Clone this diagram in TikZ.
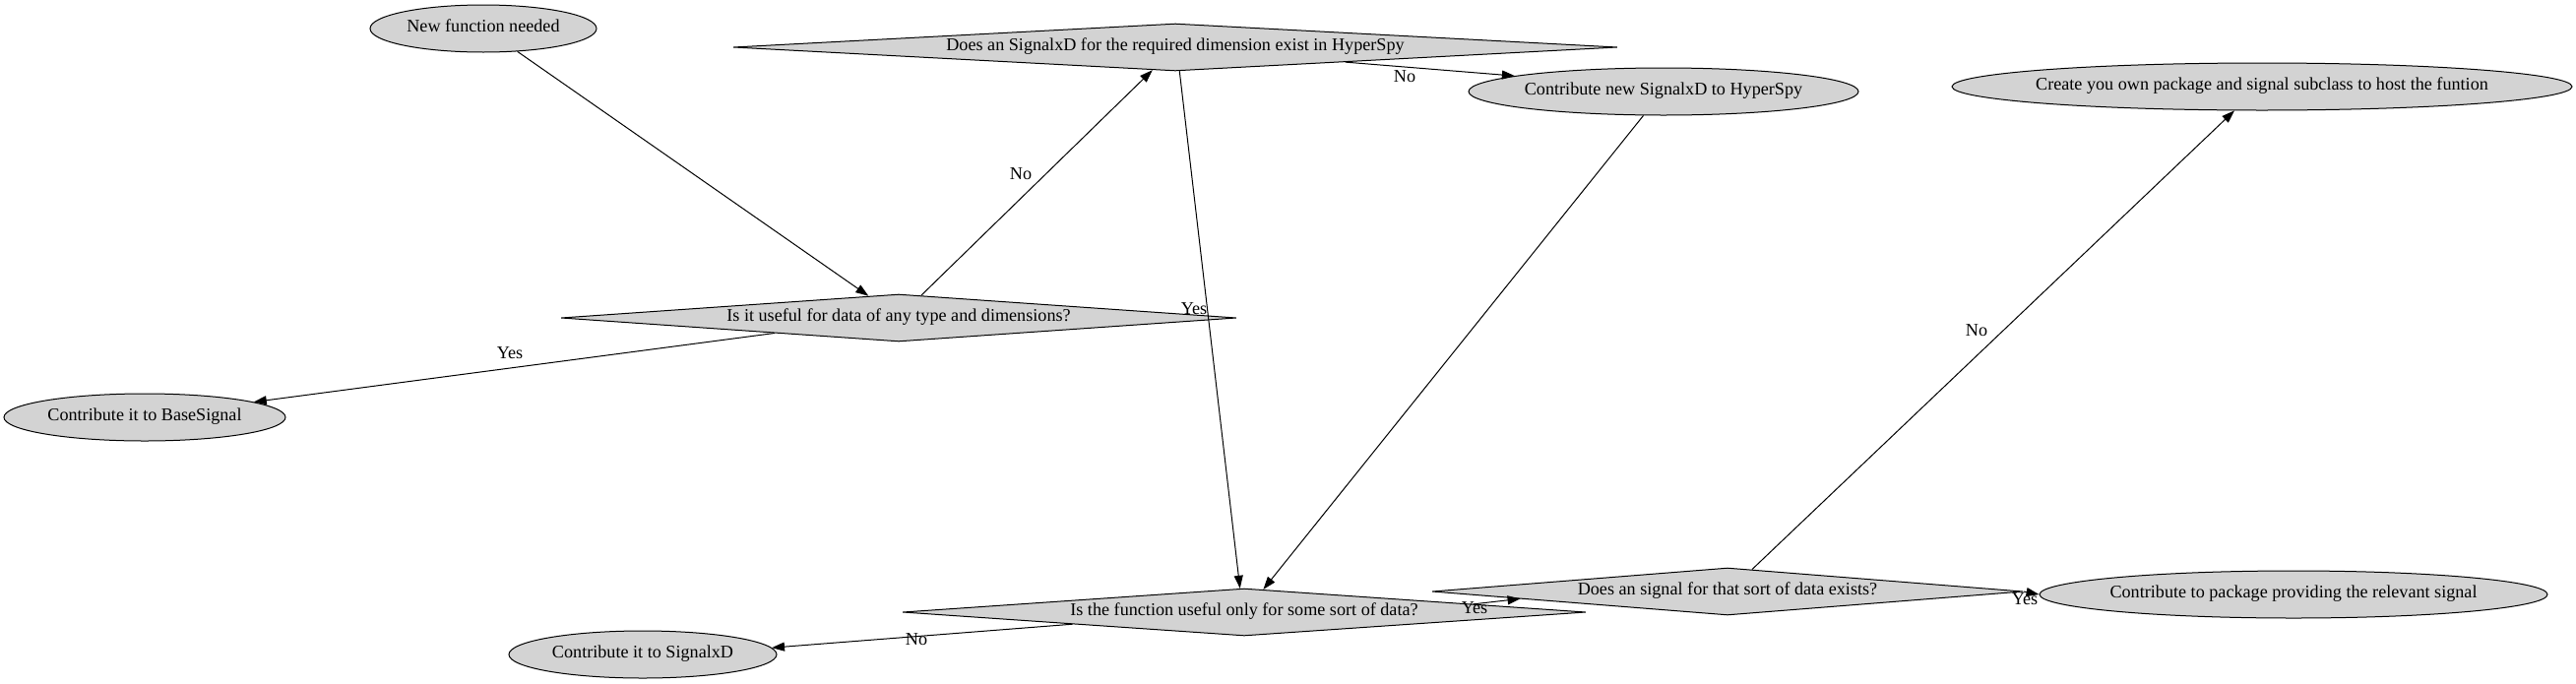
\documentclass[tikz,border=0pt]{standalone}
\usepackage{fontspec}
\setmainfont{Liberation Serif}
\usetikzlibrary{shapes.geometric,arrows.meta}
\definecolor{nodegray}{HTML}{D3D3D3}
\begin{document}
\begin{tikzpicture}[x=1pt,y=-1pt,
  every node/.style={font=\fontsize{18.15}{20}\selectfont},
  txt/.style={inner sep=0pt, text height=0.9em, text depth=0.2em},
  ell/.style={ellipse, draw, line width=1pt, fill=nodegray, inner sep=0pt, minimum height=48pt},
  dia/.style={diamond, draw, line width=1pt, fill=nodegray, inner sep=0pt, minimum height=48pt},
  arr/.style={line width=1pt, -{Triangle[length=13pt,width=9pt]}},
  lbl/.style={inner sep=0pt, text height=0.68em, text depth=0.22em}]
\useasboundingbox (0,0) rectangle (2617,694);

\node[ell, minimum width=230pt, label={[txt]center:New function needed}] (nf) at (491,29) {};
\node[dia, minimum width=898pt, label={[txt]center:Does an SignalxD for the required dimension exist in HyperSpy}] (d1) at (1194,48) {};
\node[ell, minimum width=396pt, label={[txt]center:Contribute new SignalxD to HyperSpy}] (cn) at (1690,93) {};
\node[ell, minimum width=630pt, label={[txt]center:Create you own package and signal subclass to host the funtion}] (co) at (2298,88) {};
\node[dia, minimum width=686pt, label={[txt]center:Is it useful for data of any type and dimensions?}] (d2) at (913,323) {};
\node[ell, minimum width=286pt, label={[txt]center:Contribute it to BaseSignal}] (bs) at (147,424) {};
\node[dia, minimum width=694pt, label={[txt]center:Is the function useful only for some sort of data?}] (d3) at (1264,622) {};
\node[ell, minimum width=272pt, label={[txt]center:Contribute it to SignalxD}] (sx) at (653,665) {};
\node[dia, minimum width=600pt, label={[txt]center:Does an signal for that sort of data exists?}] (d4) at (1755,601) {};
\node[ell, minimum width=516pt, label={[txt]center:Contribute to package providing the relevant signal}] (cp) at (2330,604) {};

\draw[arr] (nf.-34.4) -- (d2.144.6);
\draw[arr] (d2.45) -- (d1.-135);
\draw[arr] (d1.-5.07) -- (cn.174.9);
\draw[arr] (d1.-80.5) -- (d3.100);
\draw[arr] (cn.-130) -- (d3.50);
\draw[arr] (d2.187.5) -- (bs.8.2);
\draw[arr] (d3.184.2) -- (sx.3.5);
\draw[arr] (d3.2.48) -- (d4.182.7);
\draw[arr] (d4.42.6) -- (co.-139.4);
\draw[arr] (d4.east) -- (cp.west);

\node[lbl] (l1) at (1037,180) {No};
\node[lbl] (l2) at (1427,81) {No};
\node[lbl] (l3) at (1213,317) {Yes};
\node[lbl] (l4) at (518,362) {Yes};
\node[lbl] (l5) at (931,653) {No};
\node[lbl] (l6) at (1498,621) {Yes};
\node[lbl] (l7) at (2008,339) {No};
\node[lbl] (l8) at (2057,612) {Yes};
\end{tikzpicture}
\end{document}
